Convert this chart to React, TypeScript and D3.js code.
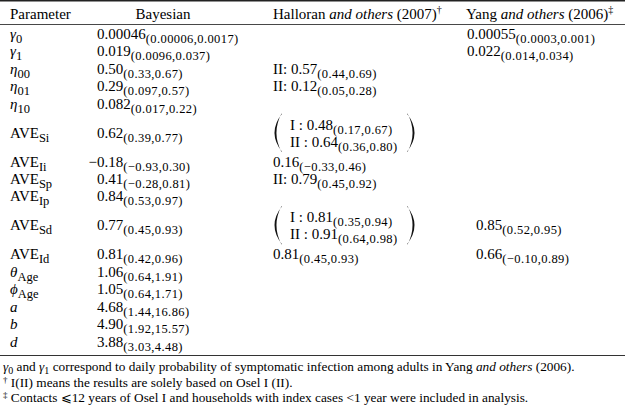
import React from "react";
import * as d3 from "d3";

// ---------- data ----------
const paramNames = ["γ", "γ", "η", "η", "η", "AVE", "AVE", "AVE", "AVE", "AVE", "AVE", "θ", "ϕ", "a", "b", "d"];
const paramSubs = ["0", "1", "00", "01", "10", "Si", "Ii", "Sp", "Ip", "Sd", "Id", "Age", "Age", "", "", ""];
const paramItalic = [true, true, true, true, true, false, false, false, false, false, false, true, true, true, true, true];

const bayesEst = ["0.00046", "0.019", "0.50", "0.29", "0.082", "0.62", "−0.18", "0.41", "0.84", "0.77", "0.81", "1.06", "1.05", "4.68", "4.90", "3.88"];
const bayesCI = ["(0.00006,0.0017)", "(0.0096,0.037)", "(0.33,0.67)", "(0.097,0.57)", "(0.017,0.22)", "(0.39,0.77)", "(−0.93,0.30)", "(−0.28,0.81)", "(0.53,0.97)", "(0.45,0.93)", "(0.42,0.96)", "(0.64,1.91)", "(0.64,1.71)", "(1.44,16.86)", "(1.92,15.57)", "(3.03,4.48)"];

const halloranPrefix = ["", "", "II: ", "II: ", "", "", "", "II: ", "", "", "", "", "", "", "", ""];
const halloranEst = [null, null, "0.57", "0.12", null, null, "0.16", "0.79", null, null, "0.81", null, null, null, null, null];
const halloranCI = [null, null, "(0.44,0.69)", "(0.05,0.28)", null, null, "(−0.33,0.46)", "(0.45,0.92)", null, null, "(0.45,0.93)", null, null, null, null, null];
// rows split by study (Osel I / Osel II)
const halloranIEst = [null, null, null, null, null, "0.48", null, null, null, "0.81", null, null, null, null, null, null];
const halloranICI = [null, null, null, null, null, "(0.17,0.67)", null, null, null, "(0.35,0.94)", null, null, null, null, null, null];
const halloranIIEst = [null, null, null, null, null, "0.64", null, null, null, "0.91", null, null, null, null, null, null];
const halloranIICI = [null, null, null, null, null, "(0.36,0.80)", null, null, null, "(0.64,0.98)", null, null, null, null, null, null];

const yangEst = ["0.00055", "0.022", null, null, null, null, null, null, null, "0.85", "0.66", null, null, null, null, null];
const yangCI = ["(0.0003,0.001)", "(0.014,0.034)", null, null, null, null, null, null, null, "(0.52,0.95)", "(−0.10,0.89)", null, null, null, null, null];

const headers = ["Parameter", "Bayesian", "Halloran", "Yang"];

// ---------- layout ----------
const W = 625;
const H = 412;
const FS = 15;
const SFS = 12.5;
const LS = 0.4;
const SUBDY = 4;
const FONT = "'Liberation Serif', 'Times New Roman', serif";

const rowUnits = halloranIEst.map((v) => (v ? 2.29 : 1));
const cum = [0, ...Array.from(d3.cumsum(rowUnits))];
const y = d3.scaleLinear().domain([0, d3.sum(rowUnits)]).range([25.25, 350.25]);
const rowCenter = (i: number) => y((cum[i] + cum[i + 1]) / 2);

const colX = { param: 10, bayes: 97, hall: 273, yang: 467 };
// the lower Yang entries sit slightly indented in the source table
const yangX = (i: number) => (i < 5 ? colX.yang : colX.yang + 9);

function Val({ x, yy, prefix, est, ci, hang }: any) {
  return (
    <text x={x} y={yy} fontSize={FS} dx={hang && est.startsWith("−") ? -8.5 : 0}>
      <tspan>{prefix}{est}</tspan>
      <tspan dy={SUBDY} fontSize={SFS} letterSpacing={LS}>{ci}</tspan>
    </text>
  );
}

function Paren({ x, top, bottom, dir }: any) {
  const m = (top + bottom) / 2;
  const o = 15 * dir;
  const i = 10.5 * dir;
  const e = 0.6 * dir;
  const d = `M${x},${top} Q${x + o},${m} ${x},${bottom} L${x + e},${bottom} Q${x + i},${m} ${x + e},${top} Z`;
  return <path d={d} fill="#111" />;
}

export default function App() {
  return (
    <svg
      width={W}
      height={H}
      viewBox={`0 0 ${W} ${H}`}
      style={{ position: "absolute", left: 0, top: 0, background: "#fff" }}
      fontFamily={FONT}
      fill="#000"
    >
      <rect width={W} height={H} fill="#fff" />
      {/* rules */}
      <line x1={0} x2={W} y1={0.8} y2={0.8} stroke="#222" strokeWidth={1.6} />
      <line x1={0} x2={W} y1={24.5} y2={24.5} stroke="#333" strokeWidth={0.9} />
      <line x1={0} x2={W} y1={355.5} y2={355.5} stroke="#333" strokeWidth={1} />

      {/* header */}
      <g fontSize={FS}>
        <text x={colX.param} y={19}>{headers[0]}</text>
        <text x={163} y={19} textAnchor="middle">{headers[1]}</text>
        <text x={colX.hall} y={19}>
          {headers[2]} <tspan fontStyle="italic">and others</tspan> (2007)
          <tspan dy={-6} fontSize={10}>†</tspan>
        </text>
        <text x={466} y={19}>
          {headers[3]} <tspan fontStyle="italic">and others</tspan> (2006)
          <tspan dy={-6} fontSize={10}>‡</tspan>
        </text>
      </g>

      {paramNames.map((name, i) => {
        const c = rowCenter(i);
        const base = c + 5;
        return (
          <g key={i}>
            <text x={colX.param} y={base} fontSize={FS}>
              <tspan fontStyle={paramItalic[i] ? "italic" : "normal"}>{name}</tspan>
              {paramSubs[i] ? <tspan dy={SUBDY} fontSize={SFS}>{paramSubs[i]}</tspan> : null}
            </text>
            <Val x={colX.bayes} yy={base} prefix="" est={bayesEst[i]} ci={bayesCI[i]} hang />
            {halloranEst[i] ? (
              <Val x={colX.hall} yy={base} prefix={halloranPrefix[i]} est={halloranEst[i]} ci={halloranCI[i]} />
            ) : null}
            {halloranIEst[i] ? (
              <g>
                <Paren x={282} top={c - 19} bottom={c + 19} dir={-1} />
                <Val x={290} yy={c - 3} prefix="I : " est={halloranIEst[i]} ci={halloranICI[i]} />
                <Val x={290} yy={c + 14} prefix="II : " est={halloranIIEst[i]} ci={halloranIICI[i]} />
                <Paren x={407} top={c - 19} bottom={c + 19} dir={1} />
              </g>
            ) : null}
            {yangEst[i] ? (
              <Val x={yangX(i)} yy={base} prefix="" est={yangEst[i]} ci={yangCI[i]} />
            ) : null}
          </g>
        );
      })}

      {/* footnotes */}
      <g fontSize={13.3}>
        <text x={3} y={371}>
          <tspan fontStyle="italic">γ</tspan>
          <tspan dy={3} fontSize={10}>0</tspan>
          <tspan dy={-3}> and </tspan>
          <tspan fontStyle="italic">γ</tspan>
          <tspan dy={3} fontSize={10}>1</tspan>
          <tspan dy={-3}> correspond to daily probability of symptomatic infection among adults in Yang </tspan>
          <tspan fontStyle="italic">and others</tspan>
          <tspan> (2006).</tspan>
        </text>
        <text x={3} y={386.5}>
          <tspan dy={-4} fontSize={9}>†</tspan>
          <tspan dy={4}> I(II) means the results are solely based on Osel I (II).</tspan>
        </text>
        <text x={3} y={402}>
          <tspan dy={-4} fontSize={9}>‡</tspan>
          <tspan dy={4}> Contacts ⩽12 years of Osel I and households with index cases &lt;1 year were included in analysis.</tspan>
        </text>
      </g>
    </svg>
  );
}
